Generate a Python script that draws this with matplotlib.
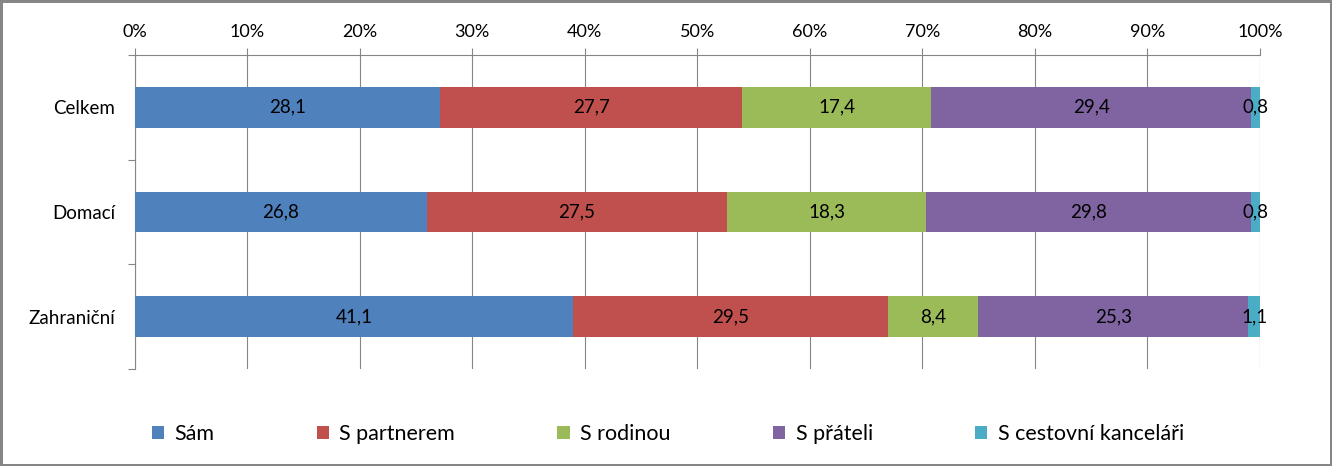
import matplotlib
matplotlib.use("Agg")
import matplotlib.pyplot as plt
import numpy as np
from matplotlib.ticker import FixedLocator, PercentFormatter

# data (values shown in the bar labels)
categories = ["Celkem", "Domací", "Zahraniční"]
series_names = ["Sám", "S partnerem", "S rodinou", "S přáteli", "S cestovní kanceláři"]
sam = [28.1, 26.8, 41.1]
partner = [27.7, 27.5, 29.5]
rodina = [17.4, 18.3, 8.4]
pratele = [29.4, 29.8, 25.3]
cestovka = [0.8, 0.8, 1.1]
colors = ["#4F81BD", "#C0504D", "#9BBB59", "#8064A2", "#4BACC6"]

plt.rcParams["font.family"] = ["Lato", "DejaVu Sans"]
grey = "#868686"

fig = plt.figure(figsize=(13.32, 4.66), dpi=100, linewidth=2.5, edgecolor=grey)
ax = fig.add_axes([134.5 / 1332, 1 - 369 / 466, (1260 - 134.5) / 1332, (369 - 55) / 466])

series = [sam, partner, rodina, pratele, cestovka]
totals = np.sum(np.array(series), axis=0)
y = np.arange(len(categories))
left = np.zeros(len(categories))

# 100% stacked bars, labels show the original values
for name, vals, col in zip(series_names, series, colors):
    vals = np.array(vals)
    share = vals / totals * 100
    bars = ax.barh(y, share, left=left, height=0.39, color=col, label=name, zorder=3)
    ax.bar_label(bars, labels=[f"{v:.1f}".replace(".", ",") for v in vals],
                 label_type="center", fontsize=13.5, color="black")
    left += share

ax.set_xlim(0, 100)
ax.set_ylim(2.5, -0.5)

ax.xaxis.set_major_locator(FixedLocator(np.arange(0, 101, 10)))
ax.xaxis.set_major_formatter(PercentFormatter(decimals=0))
ax.xaxis.tick_top()
ax.tick_params(axis="x", direction="out", length=5, width=0.8, color=grey,
               pad=6, labelsize=13)
ax.grid(axis="x", color=grey, linewidth=0.8, zorder=0)

ax.set_yticks(y)
ax.set_yticklabels(categories)
ax.yaxis.set_minor_locator(FixedLocator([-0.5, 0.5, 1.5, 2.5]))
ax.tick_params(axis="y", which="major", length=0, pad=14, labelsize=13.5)
ax.tick_params(axis="y", which="minor", direction="out", length=5, width=0.8, color=grey)

for s in ["right", "bottom"]:
    ax.spines[s].set_visible(False)
for s in ["left", "top"]:
    ax.spines[s].set_color(grey)
    ax.spines[s].set_linewidth(0.8)

fig.legend(loc="center", bbox_to_anchor=(668 / 1332, 1 - 434 / 466), ncol=5, frameon=False,
           fontsize=15.5, handlelength=0.56, handleheight=0.56, handletextpad=0.5,
           columnspacing=4.75)

fig.savefig("out.png", dpi=100)
